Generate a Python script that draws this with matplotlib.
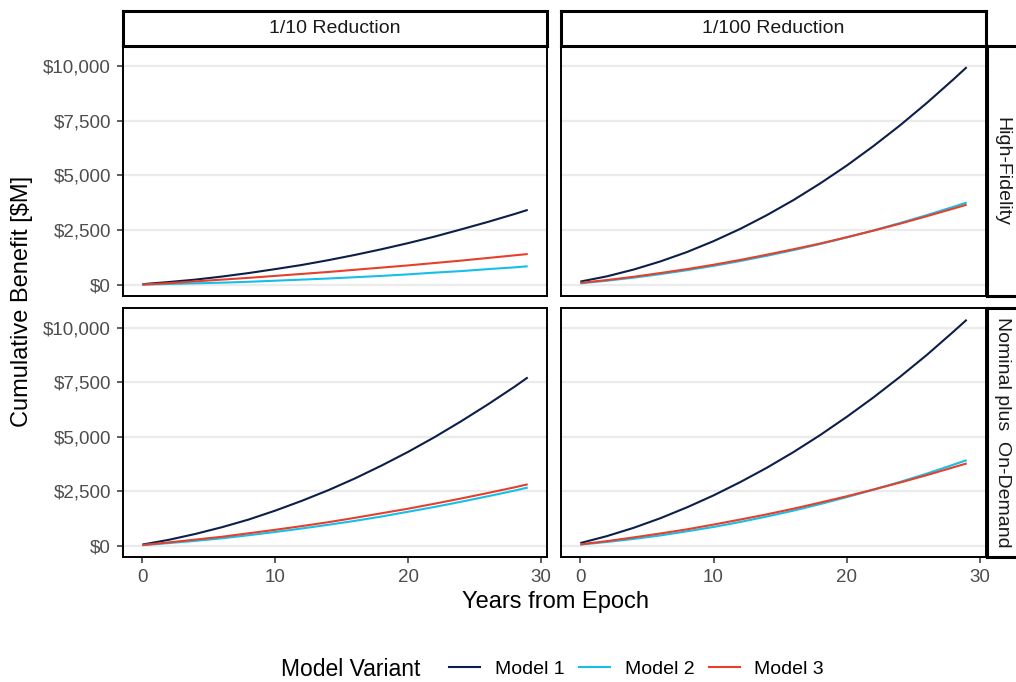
import matplotlib
matplotlib.use("Agg")
import matplotlib.pyplot as plt
from matplotlib.lines import Line2D

plt.rcParams["font.family"] = ["Liberation Sans", "DejaVu Sans"]

# Years from epoch (values every two years)
years = [0, 2, 4, 6, 8, 10, 12, 14, 16, 18, 20, 22, 24, 26, 28, 29]

col_labels = ["1/10 Reduction", "1/100 Reduction"]
row_labels = ["High-Fidelity", "Nominal plus  On-Demand"]
model_names = ["Model 1", "Model 2", "Model 3"]
model_colors = ["#0c1f48", "#16bfe9", "#e5402b"]

# Cumulative benefit [$M]
hf_10_m1 = [20, 120, 230, 370, 530, 710, 900, 1120, 1360, 1620, 1900, 2200, 2530, 2870, 3230, 3420]
hf_10_m2 = [0, 30, 60, 90, 130, 180, 230, 280, 340, 400, 470, 550, 620, 710, 790, 840]
hf_10_m3 = [0, 70, 150, 230, 310, 400, 490, 580, 680, 780, 880, 990, 1100, 1220, 1340, 1400]

hf_100_m1 = [140, 380, 690, 1060, 1490, 1990, 2550, 3180, 3870, 4630, 5450, 6340, 7290, 8310, 9390, 9950]
hf_100_m2 = [60, 180, 320, 480, 660, 860, 1080, 1320, 1580, 1860, 2160, 2480, 2820, 3180, 3560, 3760]
hf_100_m3 = [80, 210, 360, 530, 710, 910, 1130, 1370, 1620, 1880, 2170, 2470, 2790, 3130, 3480, 3660]

nd_10_m1 = [50, 270, 540, 850, 1200, 1610, 2060, 2550, 3090, 3680, 4310, 4990, 5720, 6490, 7300, 7730]
nd_10_m2 = [20, 120, 220, 340, 480, 630, 790, 960, 1140, 1340, 1560, 1780, 2020, 2270, 2530, 2670]
nd_10_m3 = [30, 150, 280, 410, 570, 730, 900, 1080, 1280, 1490, 1700, 1930, 2170, 2420, 2680, 2820]

nd_100_m1 = [120, 440, 820, 1260, 1760, 2310, 2920, 3580, 4300, 5080, 5920, 6810, 7760, 8760, 9830, 10380]
nd_100_m2 = [50, 170, 310, 470, 660, 860, 1090, 1340, 1610, 1910, 2230, 2570, 2930, 3310, 3720, 3930]
nd_100_m3 = [60, 210, 380, 560, 750, 970, 1200, 1440, 1700, 1980, 2270, 2580, 2900, 3240, 3600, 3780]

panels = [
    [[hf_10_m1, hf_10_m2, hf_10_m3], [hf_100_m1, hf_100_m2, hf_100_m3]],
    [[nd_10_m1, nd_10_m2, nd_10_m3], [nd_100_m1, nd_100_m2, nd_100_m3]],
]

y_ticks = [0, 2500, 5000, 7500, 10000]
x_ticks = [0, 10, 20, 30]

W, H = 1016, 682
fig = plt.figure(figsize=(W / 100, H / 100), dpi=100)


def px_axes(x0, y0, x1, y1):
    # pixel box (top-left origin) -> figure axes
    return fig.add_axes([x0 / W, 1 - y1 / H, (x1 - x0) / W, (y1 - y0) / H])


col_x = [(123, 547), (561, 986)]
row_y = [(46, 296), (308, 557)]

for r in range(2):
    for c in range(2):
        ax = px_axes(col_x[c][0], row_y[r][0], col_x[c][1], row_y[r][1])
        for vals, color in zip(panels[r][c], model_colors):
            ax.plot(years, vals, color=color, lw=1.5, solid_capstyle="butt")
        ax.set_xlim(-1.45, 30.45)
        ax.set_ylim(-520, 10920)
        ax.set_yticks(y_ticks)
        ax.set_xticks(x_ticks)
        ax.grid(axis="y", color="#EBEBEB", lw=1.6)
        ax.set_axisbelow(True)
        for s in ax.spines.values():
            s.set_linewidth(1.4)
            s.set_color("black")
        ax.tick_params(colors="#333333", labelcolor="#4D4D4D", labelsize=13.5,
                       length=4.5, width=1.1, pad=4)
        if c == 0:
            ax.set_yticklabels(["\\$" + f"{v:,}" for v in y_ticks])
        else:
            ax.tick_params(axis="y", left=False, labelleft=False)
        if r == 1:
            ax.set_xticklabels([str(v) for v in x_ticks])
        else:
            ax.tick_params(axis="x", bottom=False, labelbottom=False)

# column strips
for c in range(2):
    sax = px_axes(col_x[c][0], 11, col_x[c][1], 46)
    sax.set_xticks([])
    sax.set_yticks([])
    for s in sax.spines.values():
        s.set_linewidth(2.2)
    sax.text(0.5, 0.5, col_labels[c], ha="center", va="center",
             fontsize=14, color="#1A1A1A", transform=sax.transAxes)

# row strips (run off the right edge)
for r in range(2):
    sax = px_axes(987, row_y[r][0], 1032, row_y[r][1])
    sax.set_xticks([])
    sax.set_yticks([])
    for s in sax.spines.values():
        s.set_linewidth(2.2)
    fig.text(1002 / W, 1 - (row_y[r][0] + row_y[r][1]) / 2 / H, row_labels[r],
             ha="center", va="center", rotation=-90, fontsize=14,
             color="#1A1A1A", zorder=5)

fig.text(556 / W, 1 - 602 / H, "Years from Epoch", ha="center", va="center",
         fontsize=17)
fig.text(22 / W, 1 - 301 / H, "Cumulative Benefit [\\$M]", ha="center",
         va="center", rotation=90, fontsize=17)

# legend
fig.text(281 / W, 1 - 670 / H, "Model Variant", ha="left", va="center",
         fontsize=16.5)
handles = [Line2D([], [], color=col, lw=1.5) for col in model_colors]
fig.legend(handles, model_names, loc="center left",
           bbox_to_anchor=(449 / W, 1 - 669 / H), ncol=3, frameon=False,
           fontsize=14, handlelength=1.6, handletextpad=0.75,
           columnspacing=0.75, borderpad=0, borderaxespad=0)

fig.savefig("out.png", dpi=100)
